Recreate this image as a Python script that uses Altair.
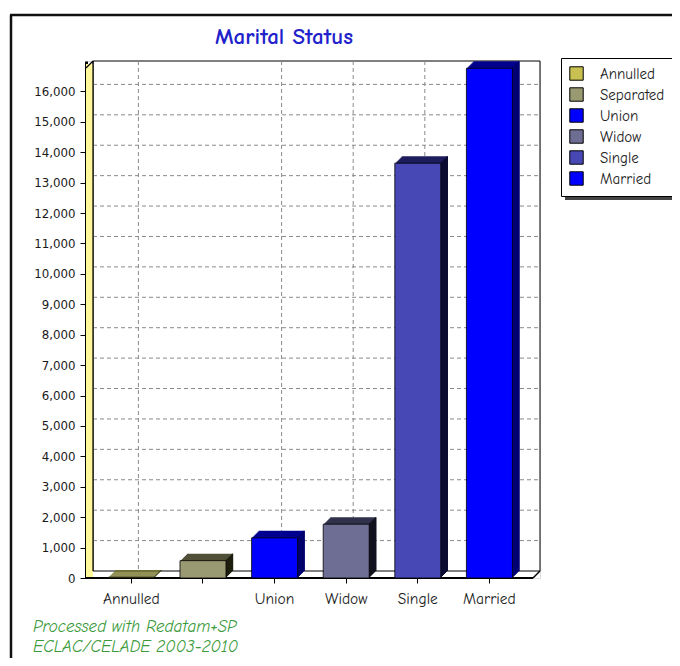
import altair as alt
import pandas as pd

# ---- data ----
categories = ["Annulled", "Separated", "Union", "Widow", "Single", "Married"]
values = [25, 570, 1320, 1770, 13640, 16760]
y_tick_values = list(range(0, 17000, 1000))
grid_values = list(range(1000, 17000, 1000))
hidden_label = "Separated"
title_text = "Marital Status"
footer_lines = ["Processed with Redatam+SP", "ECLAC/CELADE 2003-2010"]

# ---- styles ----
front_colors = ["#c8c050", "#9a9a72", "#0000ff", "#6e6e94", "#4747b6", "#0000ff"]
top_colors = ["#6e6e20", "#50503a", "#000090", "#32324c", "#1e1e5e", "#00008c"]
side_colors = ["#2a2a0c", "#1e1e10", "#00006a", "#12121f", "#0c0c32", "#000070"]
LABEL_FONT = "Comic Sans MS, Comic Neue, Open Sans"
DEPTH = 7
W, H = 454, 517
HALF_BAND = 23

df = pd.DataFrame({"cat": categories, "v": values})
grid_df = pd.DataFrame({"v": grid_values})
one = pd.DataFrame({"k": [0]})

xscale = alt.Scale(domain=categories, paddingInner=0.3575, paddingOuter=0.349, align=0.448)
yscale = alt.Scale(domain=[0, 17000], nice=False, zero=True)

x_axis = alt.Axis(title=None, labelAngle=0, domain=False, ticks=True, tickColor="black",
                  tickSize=5, labelPadding=8, labelFont=LABEL_FONT, labelFontSize=15.5,
                  labelColor="#222", grid=False,
                  labelExpr=f"datum.label == '{hidden_label}' ? '' : datum.label")
y_axis = alt.Axis(title=None, values=y_tick_values, format=",.0f", grid=False,
                  domainColor="black", domainWidth=3, tickColor="black", tickSize=6,
                  labelPadding=5, labelFont="DejaVu Sans", labelFontSize=11.8,
                  labelColor="#1a1a1a")

x_enc = alt.X("cat:N", sort=categories, scale=xscale, axis=x_axis)
y_enc = alt.Y("v:Q", scale=yscale, axis=y_axis)

layers = []

# outer frame
layers.append(alt.Chart(one).mark_rule(color="#111", strokeWidth=2.5).encode(
    x=alt.value(-75), y=alt.value(-46), y2=alt.value(600)))
layers.append(alt.Chart(one).mark_rule(color="#111", strokeWidth=2.5).encode(
    x=alt.value(-76), x2=alt.value(620), y=alt.value(-46)))

# title
layers.append(alt.Chart(pd.DataFrame({"t": [title_text]})).mark_text(
    align="center", baseline="middle", font=LABEL_FONT, fontSize=23, fontWeight="bold",
    color="#2222cc").encode(text="t:N", x=alt.value(198), y=alt.value(-24)))

# back wall
layers.append(alt.Chart(one).mark_rect(fill="white", stroke="black", strokeWidth=1).encode(
    x=alt.value(DEPTH), x2=alt.value(W), y=alt.value(0), y2=alt.value(H - DEPTH)))

# horizontal gridlines on back wall
layers.append(alt.Chart(grid_df).mark_rule(color="#8a8a8a", strokeDash=[4, 3], strokeWidth=1,
                                          yOffset=-DEPTH).encode(
    y=y_enc, x=alt.value(DEPTH), x2=alt.value(W)))

# vertical gridlines on back wall
layers.append(alt.Chart(df).transform_filter(f"datum.cat != '{hidden_label}'").mark_rule(
    color="#8a8a8a", strokeDash=[4, 3], strokeWidth=1, xOffset=DEPTH).encode(
    x=x_enc, y=alt.value(0), y2=alt.value(H - DEPTH)))

# left wall (yellow)
layers.append(alt.Chart(one).mark_rect(fill="#fff799").encode(
    x=alt.value(0), x2=alt.value(DEPTH), y=alt.value(3), y2=alt.value(H)))
layers.append(alt.Chart(one).mark_rule(color="black", strokeWidth=1.2).encode(
    x=alt.value(DEPTH), y=alt.value(0), y2=alt.value(H - DEPTH)))
layers.append(alt.Chart(one).mark_rule(color="black", strokeWidth=1.2).encode(
    x=alt.value(0), x2=alt.value(DEPTH), y=alt.value(DEPTH), y2=alt.value(0)))

# floor edges
layers.append(alt.Chart(one).mark_rule(color="black", strokeWidth=2).encode(
    x=alt.value(0), x2=alt.value(W - DEPTH), y=alt.value(H)))
layers.append(alt.Chart(one).mark_rule(color="black", strokeWidth=1.5).encode(
    x=alt.value(W - DEPTH), x2=alt.value(W), y=alt.value(H), y2=alt.value(H - DEPTH)))

# bar extrusion (top faces)
for k in range(DEPTH, 0, -1):
    layers.append(alt.Chart(df).mark_bar(xOffset=k, x2Offset=k, yOffset=-k, y2Offset=-k).encode(
        x=x_enc, y=y_enc,
        color=alt.Color("cat:N", scale=alt.Scale(domain=categories, range=top_colors), legend=None)))

# side faces
for k in range(1, DEPTH + 1):
    off = HALF_BAND + k - 0.5
    layers.append(alt.Chart(df).mark_bar(width=1.4, xOffset=off, x2Offset=off,
                                         yOffset=-k, y2Offset=-k).encode(
        x=x_enc, y=y_enc,
        color=alt.Color("cat:N", scale=alt.Scale(domain=categories, range=side_colors), legend=None)))

# legend shadow
layers.append(alt.Chart(one).mark_rect(fill="#444").encode(
    x=alt.value(479), x2=alt.value(592), y=alt.value(2), y2=alt.value(139)))

# front faces with legend
layers.append(alt.Chart(df).mark_bar(stroke="black", strokeWidth=0.8).encode(
    x=x_enc, y=y_enc,
    color=alt.Color("cat:N", scale=alt.Scale(domain=categories, range=front_colors),
                    legend=alt.Legend(orient="none", legendX=475, legendY=-3, title=None,
                                      fillColor="white", strokeColor="black", padding=8,
                                      symbolType="square", symbolSize=180,
                                      symbolStrokeColor="black", symbolStrokeWidth=1,
                                      symbolOpacity=1, labelFont=LABEL_FONT, labelFontSize=15,
                                      labelColor="#222", rowPadding=2, labelOffset=16)),
))

# footer texts
for i, line in enumerate(footer_lines):
    layers.append(alt.Chart(pd.DataFrame({"t": [line]})).mark_text(
        align="left", baseline="middle", font=LABEL_FONT, fontStyle="italic",
        fontSize=17, color="#3a9a3a").encode(
        text="t:N", x=alt.value(-53), y=alt.value(566 + 20 * i)))

chart = alt.layer(*layers).resolve_scale(color="independent").properties(
    width=W, height=H,
    padding={"left": 78, "top": 53, "right": 132, "bottom": 80},
    autosize=alt.AutoSizeParams(type="none"),
).configure_view(stroke=None).configure(background="white")

chart.save("out.html", embed_options={"renderer": "svg", "actions": False})
